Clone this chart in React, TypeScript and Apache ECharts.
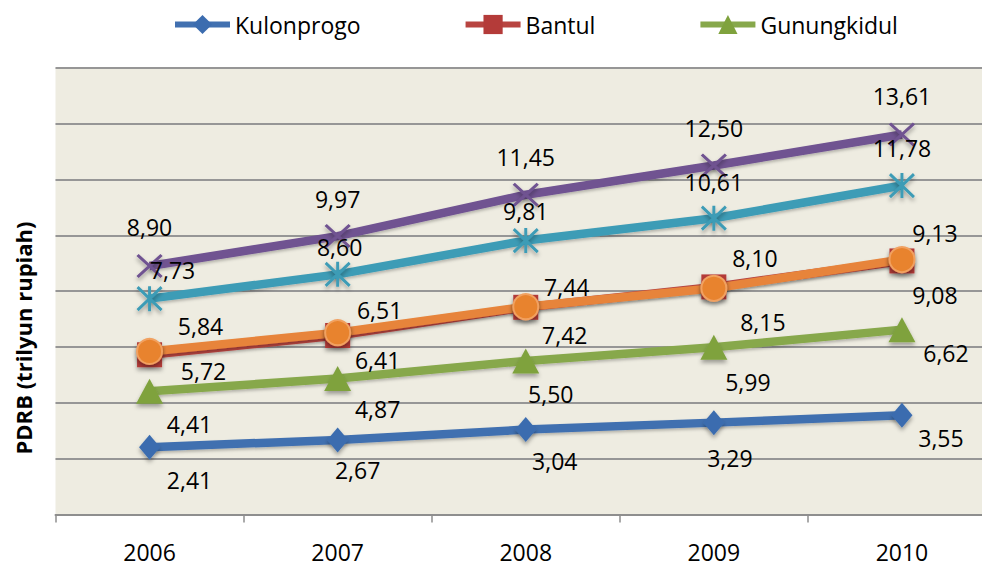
import React, { useEffect, useRef } from 'react';
import * as echarts from 'echarts';

const years = ['2006', '2007', '2008', '2009', '2010'];
const kulonprogo = [2.41, 2.67, 3.04, 3.29, 3.55];
const bantul = [5.72, 6.41, 7.42, 8.15, 9.08];
const gunungkidul = [4.41, 4.87, 5.5, 5.99, 6.62];
const sleman = [8.9, 9.97, 11.45, 12.5, 13.61];
const kotaYogya = [7.73, 8.6, 9.81, 10.61, 11.78];
const seriesOrange = [5.84, 6.51, 7.44, 8.1, 9.13];
const legendNames = ['Kulonprogo', 'Bantul', 'Gunungkidul'];
const yMin = 0;
const yMax = 16;
const yStep = 2;
const yTitle = 'PDRB (trilyun rupiah)';

// label nudges (style only)
const nudgeBlue = [[40, 33], [20, 30], [29, 31], [16, 35], [39, 23]];
const nudgeRed = [[54, 16], [40, 24], [39, 28], [49, 35], [33, 34]];
const nudgeGreen = [[40, 33], [40, 30], [25, 33], [34, 35], [44, 23]];
const nudgePurple = [[0, -39], [0, -37], [0, -38], [0, -37], [0, -38]];
const nudgeCyan = [[23, -29], [2, -27], [0, -30], [0, -36], [0, -38]];
const nudgeOrange = [[51, -25], [42, -23], [41, -20], [41, -30], [33, -27]];

const FONT = "'Open Sans', sans-serif";

const fmt = (v: number) => v.toFixed(2).replace('.', ',');

function makeSeries(
  name: string,
  values: number[],
  nudges: number[][],
  lineColor: string,
  symbol: string,
  symbolSize: number | number[],
  itemStyle: any
) {
  return {
    name,
    type: 'line',
    data: values.map((v, i) => ({ value: v, label: { offset: nudges[i] } })),
    symbol,
    symbolSize,
    showSymbol: true,
    lineStyle: {
      color: lineColor,
      width: 8.5,
      shadowBlur: 3,
      shadowOffsetY: 2,
      shadowColor: 'rgba(0,0,0,0.25)',
    },
    itemStyle: {
      shadowBlur: 4,
      shadowOffsetY: 3,
      shadowColor: 'rgba(0,0,0,0.35)',
      ...itemStyle,
    },
    label: {
      show: true,
      position: 'inside',
      formatter: (p: any) => fmt(p.value),
      color: '#000',
      fontSize: 23,
      fontFamily: FONT,
      textBorderWidth: 0,
      textShadowBlur: 0,
    },
    emphasis: { disabled: true },
  };
}

export default function App() {
  const ref = useRef<HTMLDivElement>(null);

  useEffect(() => {
    if (!ref.current) return;
    const chart = echarts.init(ref.current, undefined, { renderer: 'svg' });
    const option: any = {
      animation: false,
      backgroundColor: '#ffffff',
      legend: {
        data: legendNames,
        left: 172,
        top: 13,
        padding: 0,
        itemWidth: 55,
        itemHeight: 24,
        itemGap: 102,
        lineStyle: { width: 6 },
        textStyle: { fontSize: 23, fontFamily: FONT, color: '#000' },
        selectedMode: false,
      },
      grid: {
        left: 55.5,
        top: 67.7,
        right: -14,
        bottom: 51.5,
        outerBoundsMode: 'none',
        containLabel: false,
        show: true,
        backgroundColor: '#EEECE1',
        borderWidth: 0,
      },
      graphic: [
        {
          type: 'text',
          x: 23,
          y: 338,
          rotation: Math.PI / 2,
          style: {
            text: yTitle,
            fontSize: 22,
            fontWeight: 'bold',
            fontFamily: FONT,
            fill: '#000',
            align: 'center',
            verticalAlign: 'middle',
          },
        },
      ],
      xAxis: {
        type: 'category',
        data: years,
        boundaryGap: true,
        axisLine: { show: true, lineStyle: { color: '#8E8E8E', width: 2 } },
        axisTick: { show: true, length: 8, lineStyle: { color: '#8E8E8E', width: 1.5 } },
        axisLabel: {
          fontSize: 23,
          fontFamily: FONT,
          color: '#000',
          margin: 28,
          lineHeight: 18,
        },
        splitLine: { show: false },
      },
      yAxis: {
        type: 'value',
        min: yMin,
        max: yMax,
        interval: yStep,
        axisLine: { show: false },
        axisTick: { show: false },
        axisLabel: { show: false },
        splitLine: { show: true, lineStyle: { color: '#969696', width: 2 } },
      },
      series: [
        makeSeries('Kulonprogo', kulonprogo, nudgeBlue, '#4170B0', 'diamond', [21, 25], {
          color: '#3B6CAF',
        }),
        makeSeries('Bantul', bantul, nudgeRed, '#B84440', 'rect', 25, {
          color: '#B43B39',
        }),
        makeSeries('Gunungkidul', gunungkidul, nudgeGreen, '#87A84B', 'triangle', [27, 25], {
          color: '#7FA23D',
        }),
        makeSeries('Sleman', sleman, nudgePurple, '#6F5291', 'path://M0 0L24 22M24 0L0 22', [24, 22], {
          color: '#6F5291',
          borderColor: '#6F5291',
          borderWidth: 3,
        }),
        makeSeries('Kota Yogyakarta', kotaYogya, nudgeCyan, '#3E9CB6', 'path://M0 1L24 24M24 1L0 24M12 0L12 25', [24, 25], {
          color: '#3E9CB6',
          borderColor: '#3E9CB6',
          borderWidth: 3,
        }),
        makeSeries('DIY', seriesOrange, nudgeOrange, '#E7843A', 'circle', 25, {
          color: '#E8832E',
          borderColor: '#F1A161',
          borderWidth: 2,
        }),
      ],
    };
    chart.setOption(option);
    return () => chart.dispose();
  }, []);

  return (
    <div
      ref={ref}
      style={{ position: 'absolute', left: 0, top: 0, width: 982, height: 566 }}
    />
  );
}
